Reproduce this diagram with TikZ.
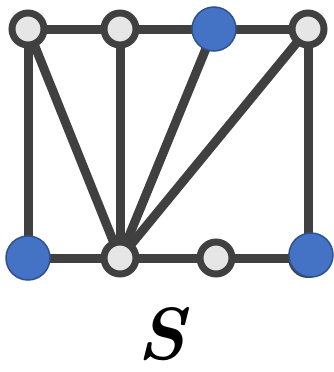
\documentclass[tikz,border=0pt]{standalone}
\usepackage{tikz}
\definecolor{edgegray}{HTML}{404040}
\definecolor{nodefill}{HTML}{E6E6E6}
\definecolor{blueF}{HTML}{4472C4}
\definecolor{blueD}{HTML}{2F528F}
\begin{document}
\begin{tikzpicture}[x=1pt,y=-1pt,
  edge/.style={draw=edgegray,line width=9pt},
  wnode/.style={circle,draw=edgegray,fill=nodefill,line width=7pt,minimum size=32pt,inner sep=0pt},
  bnode/.style={circle,draw=blueD,fill=blueF,line width=1.5pt,minimum size=44pt,inner sep=0pt},
  shadow/.style={circle,fill=edgegray,minimum size=40pt,inner sep=0pt}]
\useasboundingbox (0,0) rectangle (334,372);
% node centres
\coordinate (a1) at (28,29);
\coordinate (a2) at (120,29);
\coordinate (a3) at (214,29);
\coordinate (a4) at (308,29);
\coordinate (b1) at (28,258);
\coordinate (b2) at (120,258);
\coordinate (b3) at (216,258);
\coordinate (b4) at (308,258);
% edges
\draw[edge] (a1) -- (a2) -- (a3) -- (a4);
\draw[edge] (b1) -- (b2) -- (b3) -- (b4);
\draw[edge] (a1) -- (b1);
\draw[edge] (a2) -- (b2);
\draw[edge] (a1) -- (b2);
\draw[edge] (a3) -- (b2);
\draw[edge] (a4) -- (b2);
\draw[edge] (a4) -- (b4);
% nodes
\node[wnode] (n1) at (a1) {};
\node[wnode] (n2) at (a2) {};
\node[bnode] (n3) at (a3) {};
\node[wnode] (n4) at (a4) {};
\node[bnode] (m1) at (b1) {};
\node[wnode] (m2) at (b2) {};
\node[wnode] (m3) at (b3) {};
\node[shadow] (m4s) at (b4) {};
\node[bnode] (m4) at (311,255) {};
% label
\node[font=\fontsize{74}{74}\selectfont\bfseries\itshape,inner sep=0pt] (lab) at (162,334) {S};
\end{tikzpicture}
\end{document}
